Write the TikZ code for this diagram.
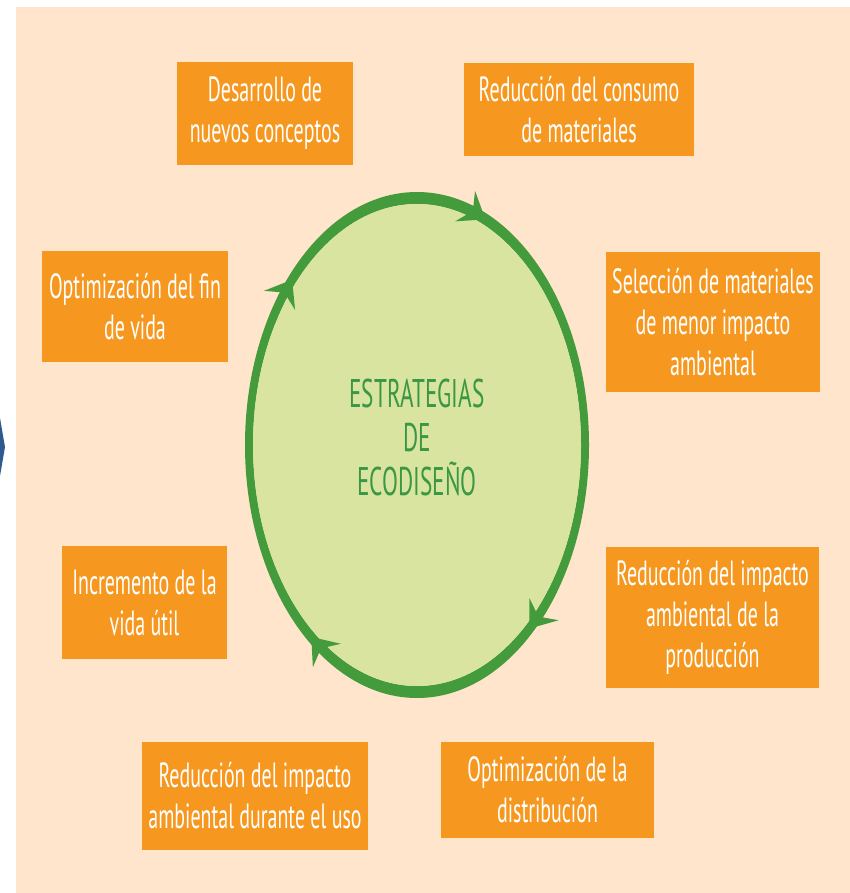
\documentclass[tikz,border=0pt]{standalone}
\usepackage{fontspec}
\newfontfamily\boxfont[FakeStretch=0.57]{PT Sans}
\newfontfamily\ringfont[FakeStretch=0.58]{PT Sans}
\usepackage{tikz}
\usetikzlibrary{arrows.meta}
\definecolor{peach}{HTML}{FFE5CC}
\definecolor{boxorange}{HTML}{F6981F}
\definecolor{ringgreen}{HTML}{449B3C}
\definecolor{ringfill}{HTML}{D8E4A0}
\definecolor{titlegreen}{HTML}{3A9744}
\definecolor{slideblue}{HTML}{2E5A8F}

\begin{document}
\begin{tikzpicture}[x=1pt,y=-1pt]
  \tikzset{BoxStyle/.style = {
    shape         = rectangle,
    fill          = boxorange,
    text          = white,
    align         = center,
    inner sep     = 0pt,
    outer sep     = 0pt,
    font          = \boxfont\fontsize{35}{41}\selectfont
    }
  }
  \tikzset{TitleStyle/.style = {
    text          = titlegreen,
    align         = center,
    inner sep     = 0pt,
    font          = \ringfont\fontsize{40}{44}\selectfont
    }
  }
  \tikzset{ArrowStyle/.style = {
    draw          = ringgreen,
    line width    = 8pt,
    -{Stealth[length=24pt, width=36pt, inset=9pt]}
    }
  }

  % page and background
  \useasboundingbox (0,0) rectangle (850,893);
  \fill[white] (0,0) rectangle (850,893);
  \fill[peach] (16,7) rectangle (850,893);
  \fill[slideblue] (0,418) -- (5,447) -- (0,476) -- cycle;

  % ring
  \fill[ringgreen, even odd rule] (417,445) ellipse[x radius=172, y radius=253]
                                  (417,445) ellipse[x radius=164, y radius=241];
  \fill[ringfill] (417,445) ellipse[x radius=164, y radius=241];
  \node[TitleStyle](C) at (417,437) {ESTRATEGIAS\\DE\\ECODISEÑO};

  \draw[ArrowStyle] (C.center) ++(0,8) ++(-79:168 and 247) arc[start angle=-79, end angle=-66, x radius=168, y radius=247];
  \draw[ArrowStyle] (C.center) ++(0,8) ++(36:168 and 247) arc[start angle=36, end angle=48, x radius=168, y radius=247];
  \draw[ArrowStyle] (C.center) ++(0,8) ++(116:168 and 247) arc[start angle=116, end angle=129, x radius=168, y radius=247];
  \draw[ArrowStyle] (C.center) ++(0,8) ++(210:168 and 247) arc[start angle=210, end angle=222, x radius=168, y radius=247];

  % strategies
  \node[BoxStyle, minimum width=176, minimum height=103](S1) at (265,113.5) {Desarrollo de\\nuevos conceptos};
  \node[BoxStyle, minimum width=230, minimum height=93](S2) at (579,109.5) {Reducción del consumo\\de materiales};
  \node[BoxStyle, minimum width=214, minimum height=140](S3) at (713,322) {Selección de materiales\\de menor impacto\\ambiental};
  \node[BoxStyle, minimum width=213, minimum height=141](S4) at (712.5,617.5) {Reducción del impacto\\ambiental de la\\producción};
  \node[BoxStyle, minimum width=213, minimum height=96](S5) at (547.5,790) {Optimización de la\\distribución};
  \node[BoxStyle, minimum width=226, minimum height=108](S6) at (255,796) {Reducción del impacto\\ambiental durante el uso};
  \node[BoxStyle, minimum width=165, minimum height=113](S7) at (144.5,602.5) {Incremento de la\\vida útil};
  \node[BoxStyle, minimum width=186, minimum height=111](S8) at (135,306.5) {Optimización del fin\\de vida};

\end{tikzpicture}
\end{document}
